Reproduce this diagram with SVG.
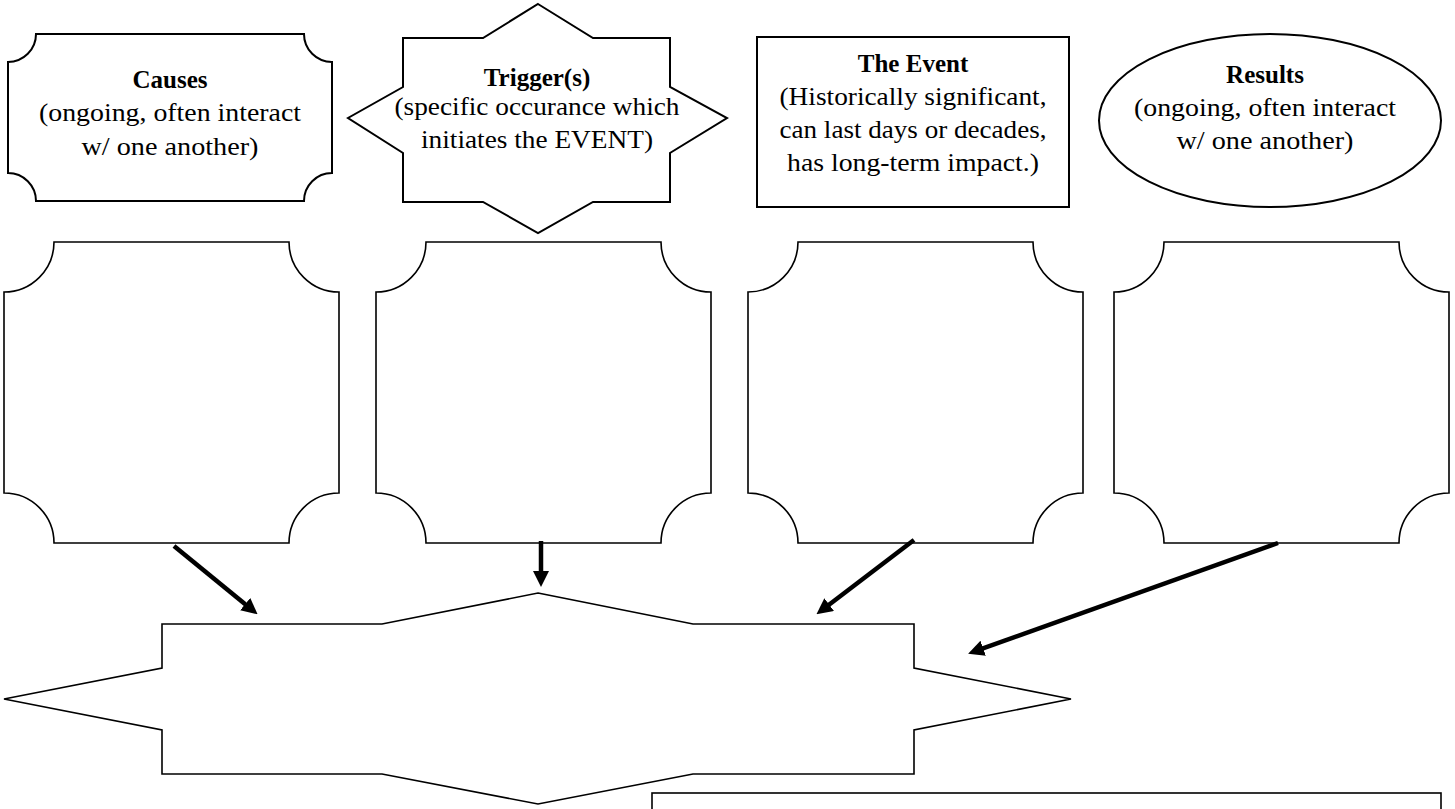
<svg xmlns="http://www.w3.org/2000/svg" width="1455" height="809" viewBox="0 0 1455 809">
<style>
.shape{fill:#fff;stroke:#000;stroke-width:2}
.box{fill:#fff;stroke:#000;stroke-width:1.6}
.t{font-family:"Liberation Serif","Times New Roman",serif;font-size:25px;fill:#000;text-anchor:middle}
.b{font-weight:bold}
.arrow{stroke:#000;stroke-width:4.5;fill:none;marker-end:url(#ah)}
</style>
<defs>
<marker id="ah" markerUnits="userSpaceOnUse" markerWidth="16" markerHeight="16" refX="4" refY="8" orient="auto" viewBox="0 0 16 16">
<path d="M0,0 L16,8 L0,16 Z" fill="#000"/>
</marker>
</defs>
<rect width="1455" height="809" fill="#fff"/>

<g id="causes">
<path class="shape" d="M36,34 H304 A28 28 0 0 0 332,62 V173 A28 28 0 0 0 304,201 H36 A28 28 0 0 0 8,173 V62 A28 28 0 0 0 36,34 Z"/>
<text class="t b" x="170" y="88">Causes</text>
<text class="t" x="170" y="121" textLength="262" lengthAdjust="spacingAndGlyphs">(ongoing, often interact</text>
<text class="t" x="170" y="155" textLength="177" lengthAdjust="spacingAndGlyphs">w/ one another)</text>
</g>

<g id="trigger">
<path class="shape" d="M538,4 L593,38 H670 V87 L727,118 L670,153 V202 H593 L538,233 L483,202 H403 V153 L348,118 L403,87 V38 H483 Z"/>
<text class="t b" x="537" y="86">Trigger(s)</text>
<text class="t" x="537" y="115" textLength="285" lengthAdjust="spacingAndGlyphs">(specific occurance which</text>
<text class="t" x="537" y="148" textLength="232" lengthAdjust="spacingAndGlyphs">initiates the EVENT)</text>
</g>

<g id="event">
<rect class="shape" x="757" y="37" width="312" height="170"/>
<text class="t b" x="913" y="72">The Event</text>
<text class="t" x="913" y="105" textLength="267" lengthAdjust="spacingAndGlyphs">(Historically significant,</text>
<text class="t" x="913" y="138" textLength="267" lengthAdjust="spacingAndGlyphs">can last days or decades,</text>
<text class="t" x="913" y="171" textLength="252" lengthAdjust="spacingAndGlyphs">has long-term impact.)</text>
</g>

<g id="results">
<ellipse class="shape" cx="1270" cy="120.5" rx="171" ry="86.5"/>
<text class="t b" x="1265" y="83">Results</text>
<text class="t" x="1265" y="116" textLength="262" lengthAdjust="spacingAndGlyphs">(ongoing, often interact</text>
<text class="t" x="1265" y="149" textLength="177" lengthAdjust="spacingAndGlyphs">w/ one another)</text>
</g>

<g id="box1">
<path class="box" d="M54,242 H289 A50 50 0 0 0 339,292 V493 A50 50 0 0 0 289,543 H54 A50 50 0 0 0 4,493 V292 A50 50 0 0 0 54,242 Z"/>
</g>
<g id="box2">
<path class="box" d="M426,242 H661 A50 50 0 0 0 711,292 V493 A50 50 0 0 0 661,543 H426 A50 50 0 0 0 376,493 V292 A50 50 0 0 0 426,242 Z"/>
</g>
<g id="box3">
<path class="box" d="M798,242 H1033 A50 50 0 0 0 1083,292 V493 A50 50 0 0 0 1033,543 H798 A50 50 0 0 0 748,493 V292 A50 50 0 0 0 798,242 Z"/>
</g>
<g id="box4">
<path class="box" d="M1164,242 H1399 A50 50 0 0 0 1449,292 V493 A50 50 0 0 0 1399,543 H1164 A50 50 0 0 0 1114,493 V292 A50 50 0 0 0 1164,242 Z"/>
</g>

<g id="center-star">
<path class="box" d="M538,593 L693,624 H914 V668 L1071,699 L914,730 V774 H693 L538,804 L382,774 H162 V730 L4,699 L162,668 V624 H382 Z"/>
</g>

<g id="bottom-box">
<rect class="box" x="652" y="793" width="789" height="40"/>
</g>

<g id="connectors">
<line class="arrow" x1="174" y1="546" x2="248.3" y2="606.7"/>
<line class="arrow" x1="541" y1="541" x2="541" y2="575"/>
<line class="arrow" x1="914" y1="540" x2="826" y2="607"/>
<line class="arrow" x1="1278" y1="543" x2="979.4" y2="649.6"/>
</g>
</svg>
